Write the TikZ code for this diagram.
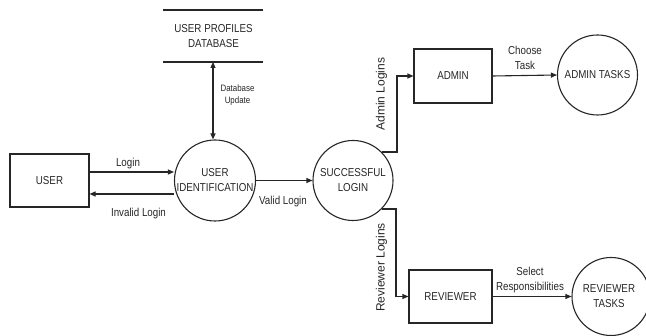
\documentclass[tikz,border=0pt]{standalone}
\usepackage{fontspec}
\setmainfont{Liberation Sans}[FakeStretch=0.85]
\newfontfamily\rotfont{Liberation Sans}
\usetikzlibrary{arrows.meta}
\tikzset{
  ln/.style={draw=black!85, line width=1.1pt},
  flow/.style={ln, -{Triangle[length=6pt,width=5pt]}},
  entity/.style={ln, rectangle, inner sep=0pt},
  proc/.style={ln, circle, inner sep=0pt},
  txt/.style={font=\fontsize{11.5}{15}\selectfont, text=black!85, align=center, inner sep=0pt},
  small/.style={font=\fontsize{9.3}{12}\selectfont, text=black!85, align=center, inner sep=0pt},
  vlab/.style={font=\rotfont\fontsize{12}{14}\selectfont, text=black!85, rotate=90, inner sep=0pt}
}
\begin{document}
\begin{tikzpicture}[x=1pt,y=-1pt]
\useasboundingbox (0,0) rectangle (646,336);

% external entities
\node[entity, minimum width=79pt, minimum height=53pt] (user) at (49.5,180.5) {};
\node[txt] (usertxt) at (user) {USER};
\node[entity, minimum width=78pt, minimum height=54pt] (admin) at (453,76) {};
\node[txt] (admintxt) at (admin) {ADMIN};
\node[entity, minimum width=83pt, minimum height=53pt] (rev) at (450.5,296.5) {};
\node[txt] (revtxt) at (rev) {REVIEWER};

% processes
\node[proc, minimum size=81pt] (uid) at (215,180.5) {};
\node[txt] (uidtxt) at (uid) {USER\\IDENTIFICATION};
\node[proc, minimum size=80pt] (sl) at (353,180.5) {};
\node[txt] (sltxt) at (sl) {SUCCESSFUL\\LOGIN};
\node[proc, minimum size=80pt] (at) at (597.5,75) {};
\node[txt] (attxt) at (at) {ADMIN TASKS};
\node[proc, minimum size=78pt] (rt) at (611,296.5) {};
\node[txt] (rttxt) at (609,296.5) {REVIEWER\\TASKS};

% data store
\coordinate (dbtl) at (163,10);
\coordinate (dbtr) at (263,10);
\coordinate (dbbl) at (163,62);
\coordinate (dbbr) at (263,62);
\draw[ln] (dbtl) -- (dbtr);
\draw[ln] (dbbl) -- (dbbr);
\node[txt] (dbtxt) at (213.5,36.5) {USER PROFILES\\DATABASE};
\coordinate (dbport) at (213,62);

% flows
\draw[ln, {Triangle[length=6pt,width=5pt]}-{Triangle[length=6pt,width=5pt]}] (dbport) -- (uid.north -| dbport);
\node[small] (dblab) at (237.5,95) {Database\\Update};

\draw[flow] (user.east |- 0,172) -- (uid.west |- 0,172);
\node[txt] (loginlab) at (128,164) {Login};
\coordinate (invs) at (174,194);
\draw[flow] (invs) -- (user.east |- invs);
\node[txt] (invlab) at (138.5,214) {Invalid Login};

\draw[flow] (uid.east) -- (sl.west);
\node[txt] (validlab) at (283,201.5) {Valid Login};

\coordinate (aout) at (382,152);
\draw[flow] (aout) -- (397,152) |- (admin.west);
\node[vlab] (alab) at (381.5,94) {Admin Logins};

\coordinate (rout) at (382,209);
\draw[flow] (rout) -- (396,209) |- (rev.west);
\node[vlab] (rlab) at (381.5,267.5) {Reviewer Logins};

\draw[flow] (admin.east) -- (at.west);
\node[txt] (chlab) at (525,58) {Choose\\Task};

\draw[flow] (rev.east) -- (rt.west);
\node[txt] (sellab) at (530,280) {Select\\Responsibilities};
\end{tikzpicture}
\end{document}
